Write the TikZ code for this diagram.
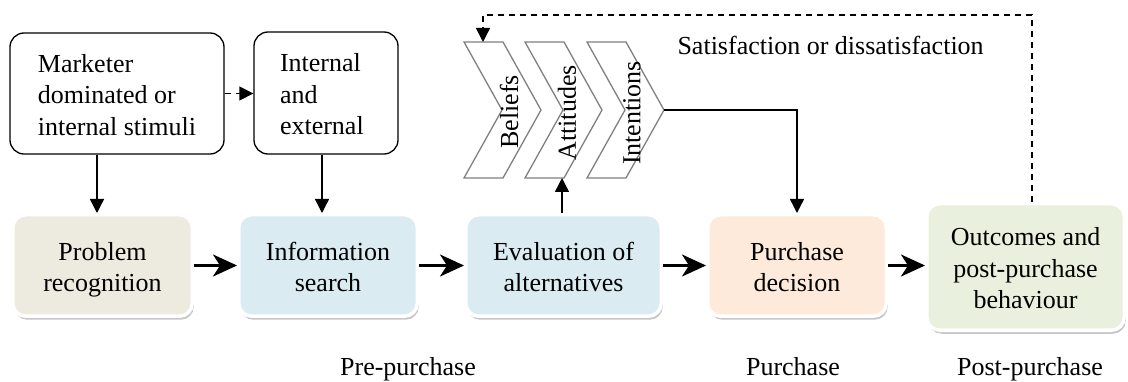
\documentclass[tikz,border=0pt]{standalone}
\usepackage{fontspec}
\setmainfont{Liberation Serif}
\newfontfamily\diagfont{Liberation Serif}
\usepackage{graphicx}
\usetikzlibrary{arrows.meta,shadows}

\definecolor{probfill}{HTML}{EDEBE0}
\definecolor{infofill}{HTML}{DAECF2}
\definecolor{buyfill}{HTML}{FDEADA}
\definecolor{postfill}{HTML}{EAF0DE}

\tikzset{
  txt/.style={font=\diagfont\fontsize{26}{31.5}\selectfont},
  srcbox/.style={txt, draw=black, line width=1.3pt, rounded corners=14pt,
    inner sep=0pt},
  stage/.style={txt, draw=white, line width=3.5pt, rounded corners=13pt,
    minimum height=101.5pt, inner sep=0pt,
    drop shadow={shadow xshift=1.5pt, shadow yshift=-3.5pt, fill=black, opacity=0.22}},
  flow/.style={line width=2.6pt, -{Stealth[length=24pt,width=22pt,inset=7pt]}},
  feed/.style={line width=1.4pt, -{Triangle[length=14pt,width=14pt]}},
  dfeed/.style={feed, dash pattern=on 6pt off 5pt},
  chevline/.style={draw=black!50, line width=1.3pt},
  chevron/.pic={\draw[chevline] (0,0) -- (39,0) -- (77,68) -- (39,136) -- (0,136) -- (38,68) -- cycle;}
}
% multi-line node contents; extra room on top sets the lines a little below the centre
\newcommand\linesL[1]{\raisebox{0pt}[\dimexpr\height+8pt][\depth]{\begin{tabular}{@{}l@{}}#1\end{tabular}}}
\newcommand\linesC[1]{\raisebox{0pt}[\dimexpr\height+8pt][\depth]{\begin{tabular}{@{}c@{}}#1\end{tabular}}}

\begin{document}
\begin{tikzpicture}[x=1pt,y=-1pt]
\useasboundingbox (0,0) rectangle (1128,382);

% stimulus and source boxes
\node[srcbox, minimum width=214pt, minimum height=121pt] (mkt) at (117,93.5)
  {\linesL{Marketer\\dominated or\\internal stimuli}};
\node[srcbox, minimum width=144pt, minimum height=122pt, text width=92pt] (ie) at (326,93)
  {\linesL{Internal\\and\\external}};

% decision stages
\node[stage, fill=probfill, minimum width=179.5pt] (PR) at (102.5,265.5) {\linesC{Problem\\recognition}};
\node[stage, fill=infofill, minimum width=178.5pt] (IS) at (328,265.5) {\linesC{Information\\search}};
\node[stage, fill=infofill, minimum width=195.5pt] (EV) at (563.5,265.5) {\linesC{Evaluation of\\alternatives}};
\node[stage, fill=buyfill, minimum width=178.5pt] (PD) at (797,265.5) {\linesC{Purchase\\decision}};
\node[stage, fill=postfill, minimum width=197.5pt, minimum height=126.5pt] (OB) at (1025.5,267)
  {\linesC{Outcomes and\\post-purchase\\behaviour}};

% beliefs / attitudes / intentions chevrons
\pic at (464,42) {chevron};
\pic at (525,42) {chevron};
\pic at (587,42) {chevron};
\node[txt, inner sep=0pt] (bel) at (509,112) {\rotatebox{90}{Beliefs}};
\node[txt, inner sep=0pt] (att) at (567,113) {\rotatebox{90}{Attitudes}};
\node[txt, inner sep=0pt] (int) at (632,113) {\rotatebox{90}{Intentions}};

\coordinate (belIn) at (483,42);
\coordinate (attOut) at (562,178);
\coordinate (intTip) at (664,110);
\coordinate (ax) at (97,0);
\coordinate (bx) at (322,0);
\coordinate (fbx) at (1032,0);
\coordinate (fbtop) at (0,15);

% main flow
\draw[flow] (PR) -- (IS);
\draw[flow] (IS) -- (EV);
\draw[flow] (EV) -- (PD);
\draw[flow] (PD.east) -- (PD.east -| OB.west);

% inputs and feedback
\draw[feed] (mkt.south -| ax) -- (PR.north -| ax);
\draw[feed] (ie.south -| bx) -- (IS.north -| bx);
\draw[dfeed] (mkt.east) -- (mkt.east -| ie.west);
\draw[feed] (EV.north -| attOut) -- (attOut);
\draw[feed] (intTip) -| (PD.north);
\draw[dfeed] (OB.north -| fbx) -- (fbx |- fbtop) -| (belIn);

% labels
\node[txt, anchor=west] (sat) at (674,45) {Satisfaction or dissatisfaction};
\node[txt, anchor=base] (pre) at (408,375) {Pre-purchase};
\node[txt, anchor=base] (pur) at (793,375) {Purchase};
\node[txt, anchor=base] (post) at (1030,375) {Post-purchase};
\end{tikzpicture}
\end{document}
